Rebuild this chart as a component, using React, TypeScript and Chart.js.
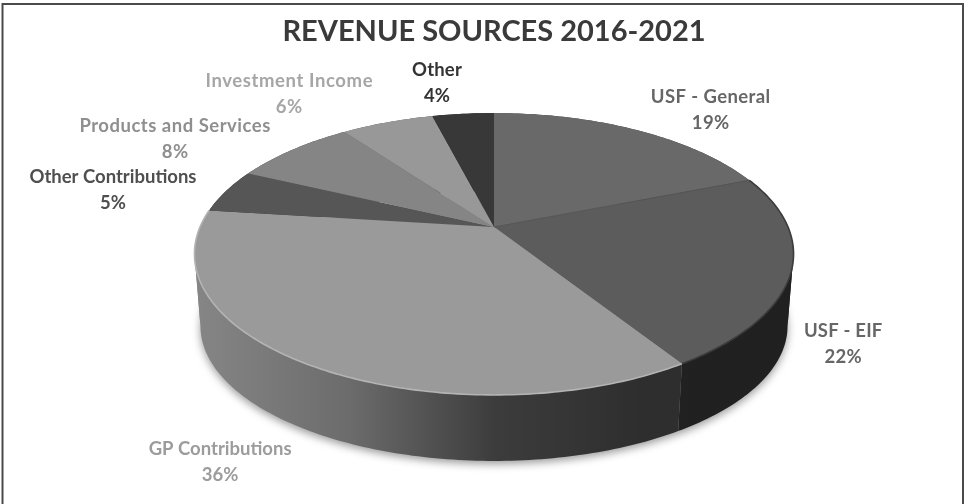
import React, { useEffect, useRef } from "react";
import { Chart, registerables } from "chart.js";

Chart.register(...registerables);

const titleText = "REVENUE SOURCES 2016-2021";
const categories = ["USF - General", "USF - EIF", "GP Contributions", "Other Contributions", "Products and Services", "Investment Income", "Other"];
const shares = [19, 22, 36, 5, 8, 6, 4];

const topColors = ["#696969", "#5c5c5c", "#9a9a9a", "#565656", "#858585", "#989898", "#383838"];
const labelColors = ["#666666", "#666666", "#9c9c9c", "#4f4f4f", "#8f8f8f", "#a6a6a6", "#333333"];
const sideStops = [
  ["#444444", "#444444"],
  ["#242424", "#202020"],
  ["#858585", "#6c6c6c", "#3c3c3c", "#2e2e2e"],
  ["#333333", "#333333"],
  ["#444444", "#444444"],
  ["#555555", "#555555"],
  ["#222222", "#222222"],
];
const labelOffsets = [[74, -20], [52, 72.5], [-86, 98], [-113, -1], [-117, -10.5], [-98, -28], [-26, -31]];
const labelSpacing = [0.4, 0.2, 0, 0, 0.5, 0.6, 0.2];

const FONT = "Lato, Carlito, 'Open Sans', sans-serif";

// perspective of the tilted disc
const K = -0.1915;
const SX = 2.579;
const SY = 1.191;

function rim(a: any, t: number, depth = 0): [number, number] {
  const r = a.outerRadius;
  const w = 1 + K * Math.sin(t);
  const x = a.x + (r * SX * Math.cos(t)) / w;
  const y = a.y + (r * SY * Math.sin(t)) / w;
  if (!depth) return [x, y];
  const ecy = a.y + r * 0.237;
  return [a.x + (x - a.x) * 0.98, ecy + (y - ecy) * 0.957 + depth];
}

function range(t0: number, t1: number): number[] {
  const n = Math.max(8, Math.ceil((t1 - t0) * 60));
  const out: number[] = [];
  for (let i = 0; i <= n; i++) out.push(t0 + ((t1 - t0) * i) / n);
  return out;
}

function steps(a: any): number[] {
  return range(a.startAngle, a.endAngle);
}

// A slice's wall is cut where the projected outline turns, so each piece is a simple band.
function wallPieces(a: any): number[][] {
  const turn = Math.asin(-K);
  const cuts = [a.startAngle];
  for (let k = -2; k <= 2; k++) {
    [turn + 2 * k * Math.PI, Math.PI - turn + 2 * k * Math.PI].forEach((c) => {
      if (c > a.startAngle && c < a.endAngle) cuts.push(c);
    });
  }
  cuts.push(a.endAngle);
  cuts.sort((p, q) => p - q);
  const out: number[][] = [];
  for (let i = 0; i < cuts.length - 1; i++) out.push(range(cuts[i], cuts[i + 1]));
  return out;
}

function tracePath(ctx: any, a: any, ts: number[]) {
  ts.forEach((t, j) => {
    const [x, y] = rim(a, t);
    j ? ctx.lineTo(x, y) : ctx.moveTo(x, y);
  });
}

const pie3d = {
  id: "pie3d",
  beforeDraw(chart: any) {
    const { ctx, width, height } = chart;
    ctx.save();
    ctx.fillStyle = "#ffffff";
    ctx.fillRect(0, 0, width, height);
    ctx.strokeStyle = "#4a4a4a";
    ctx.lineWidth = 2;
    ctx.beginPath();
    ctx.moveTo(2.5, height);
    ctx.lineTo(2.5, 4);
    ctx.lineTo(width - 3, 4);
    ctx.lineTo(width - 3, height);
    ctx.stroke();
    ctx.restore();
  },
  beforeDatasetDraw(chart: any, args: any) {
    const { ctx } = chart;
    const arcs = args.meta.data;
    const depth = arcs[0].outerRadius * 0.632;
    ctx.save();
    // soft shadow below the disc
    ctx.save();
    ctx.filter = "blur(4px)";
    ctx.fillStyle = "rgba(0,0,0,0.4)";
    ctx.beginPath();
    arcs.forEach((a: any) => {
      steps(a).forEach((t) => {
        const [x, y] = rim(a, t, depth);
        ctx.lineTo(x, y + 3);
      });
    });
    ctx.closePath();
    ctx.fill();
    ctx.restore();
    // walls, swept from the top rim to the bottom rim
    arcs.forEach((a: any, i: number) => {
      const left = a.x - a.outerRadius * SX;
      const right = a.x + a.outerRadius * SX;
      const g = ctx.createLinearGradient(left, 0, i === 2 ? a.x + 150 : right, 0);
      const s = sideStops[i];
      s.forEach((c: string, j: number) => g.addColorStop(j / (s.length - 1), c));
      ctx.fillStyle = g;
      wallPieces(a).forEach((ts) => {
        ctx.beginPath();
        tracePath(ctx, a, ts);
        [...ts].reverse().forEach((t) => {
          const [x, y] = rim(a, t, depth);
          ctx.lineTo(x, y);
        });
        ctx.closePath();
        ctx.fill();
      });
    });
    // top faces
    arcs.forEach((a: any, i: number) => {
      ctx.fillStyle = topColors[i];
      ctx.beginPath();
      ctx.moveTo(a.x, a.y);
      steps(a).forEach((t) => {
        const [x, y] = rim(a, t);
        ctx.lineTo(x, y);
      });
      ctx.closePath();
      ctx.fill();
    });
    // seam between the two right slices
    const [sx, sy] = rim(arcs[1], arcs[1].startAngle);
    ctx.strokeStyle = "#555555";
    ctx.lineWidth = 1;
    ctx.beginPath();
    ctx.moveTo(arcs[1].x, arcs[1].y);
    ctx.lineTo(sx, sy);
    ctx.stroke();
    // bevels on the front edges
    ctx.strokeStyle = "#b4b4b4";
    ctx.lineWidth = 1.6;
    ctx.beginPath();
    tracePath(ctx, arcs[2], steps(arcs[2]));
    ctx.stroke();
    ctx.strokeStyle = "#3c3c3c";
    ctx.lineWidth = 1.6;
    ctx.beginPath();
    tracePath(ctx, arcs[1], steps(arcs[1]));
    ctx.stroke();
    ctx.restore();
    return false;
  },
  afterDatasetsDraw(chart: any) {
    const { ctx } = chart;
    const arcs = chart.getDatasetMeta(0).data;
    ctx.save();
    ctx.font = `bold 18.5px ${FONT}`;
    ctx.textAlign = "center";
    ctx.textBaseline = "middle";
    arcs.forEach((a: any, i: number) => {
      const [x, y] = rim(a, (a.startAngle + a.endAngle) / 2);
      const [dx, dy] = labelOffsets[i];
      ctx.fillStyle = labelColors[i];
      ctx.letterSpacing = `${labelSpacing[i]}px`;
      ctx.fillText(categories[i], x + dx, y + dy - 13);
      ctx.fillText(`${shares[i]}%`, x + dx, y + dy + 13);
    });
    ctx.restore();
  },
};

export default function App() {
  const ref = useRef<HTMLCanvasElement>(null);
  useEffect(() => {
    document.body.style.margin = "0";
    const chart = new Chart(ref.current!, {
      type: "pie",
      data: {
        labels: categories,
        datasets: [{ data: shares, backgroundColor: topColors, borderWidth: 0 }],
      },
      options: {
        animation: false,
        responsive: false,
        devicePixelRatio: 1,
        layout: { padding: { top: 0, left: 22, right: 0, bottom: 163 } },
        plugins: {
          legend: { display: false },
          tooltip: { enabled: false },
          title: {
            display: true,
            text: titleText,
            color: "#3a3a3a",
            font: { family: FONT, size: 29, weight: "bold", lineHeight: 1.2 },
            padding: { top: 14, bottom: 64.2 },
          },
        },
      },
      plugins: [pie3d],
    } as any);
    return () => chart.destroy();
  }, []);
  return (
    <canvas
      ref={ref}
      width={966}
      height={504}
      style={{ display: "block", width: 966, height: 504, filter: "blur(0.6px)" }}
    />
  );
}
